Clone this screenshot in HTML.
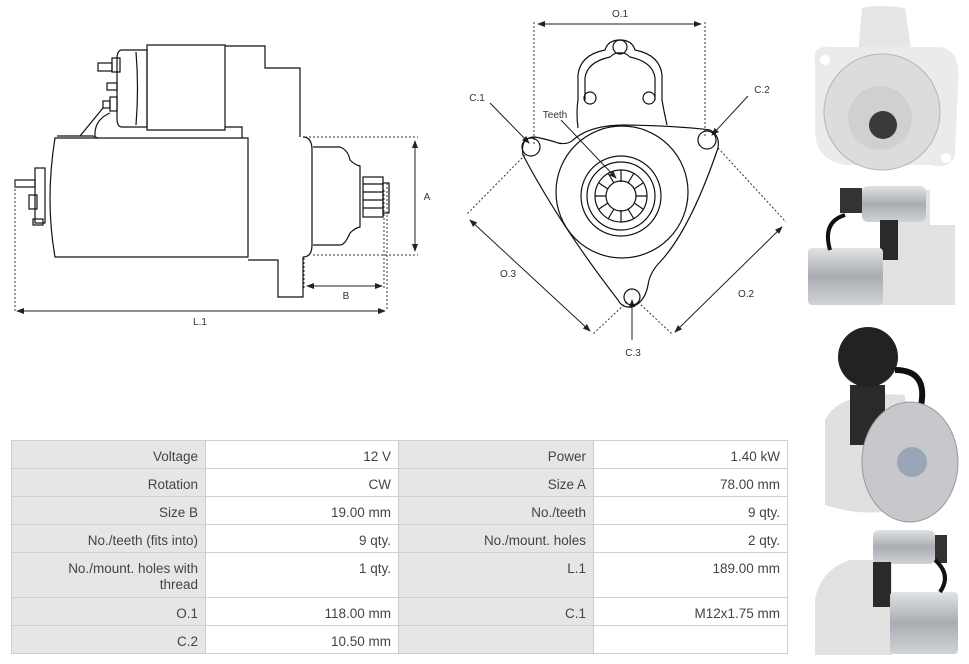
<!DOCTYPE html>
<html><head><meta charset="utf-8"><style>
html,body{margin:0;padding:0;background:#fff;width:969px;height:664px;overflow:hidden;font-family:"Liberation Sans",sans-serif}
svg{position:absolute;left:0;top:0}
.c{position:absolute;box-sizing:border-box;font-size:13.5px;color:#444;text-align:right;padding:8px 7px 0 0;line-height:16px;border:1px solid #cfcfcf}
.g{background:#e6e6e6}.w{background:#fff}
</style></head><body>
<svg width="969" height="664" viewBox="0 0 969 664">
<defs><marker id="a" markerWidth="8" markerHeight="8" refX="7" refY="4" orient="auto"><path d="M0,1 L8,4 L0,7z" fill="#222"/></marker>
<marker id="b" markerWidth="8" markerHeight="8" refX="1" refY="4" orient="auto"><path d="M8,1 L0,4 L8,7z" fill="#222"/></marker>
<linearGradient id="cyl" x1="0" y1="0" x2="0" y2="1"><stop offset="0" stop-color="#e0e2e4"/><stop offset=".5" stop-color="#a9adb2"/><stop offset="1" stop-color="#d0d3d6"/></linearGradient></defs>
<g fill="none" stroke="#111" stroke-width="1.2">
<path d="M147,45 H225 V130 H147 Z"/>
<path d="M122,50 H147 V127 H122 Q117,127 117,118 V59 Q117,50 122,50Z"/>
<path d="M136,52 Q139,88 136,125"/>
<rect x="112" y="58" width="8" height="14"/><rect x="98" y="63" width="14" height="8"/>
<rect x="107" y="83" width="10" height="7"/>
<rect x="110" y="97" width="7" height="14"/><rect x="103" y="101" width="7" height="7"/>
<path d="M225,46 H265 V68 H300 V137"/>
<path d="M225,127 H242 V138"/>
<path d="M55,138 H248 V257 H55 Q45,200 55,138Z"/>
<path d="M57,136 H93 L98,138"/><path d="M80,136 L103,108 M95,136 Q94,120 110,113"/>
<rect x="35" y="168" width="10" height="55"/><rect x="29" y="195" width="8" height="14"/>
<rect x="15" y="180" width="20" height="7"/><rect x="33" y="219" width="10" height="6"/>
<path d="M248,260 H278 V297 H303 V257"/>
<path d="M303,137 Q312,137 312,150 V245 Q312,257 303,257"/>
<path d="M313,147 H340 Q348,150 350,160 Q355,165 360,166 V227 Q355,228 350,233 Q345,245 340,245 H313"/>
<rect x="363" y="177" width="20" height="40"/><path d="M363,184 H383 M363,192 H383 M363,200 H383 M363,208 H383"/>
<rect x="383" y="183" width="6" height="30"/>
</g>
<g fill="none" stroke="#333" stroke-width="1" stroke-dasharray="2,2">
<path d="M305,137 H418 M313,255 H418 M15,181 V311 M387,183 V311 M384,190 V288 M304,258 V290"/>
<path d="M534,22 V145 M705,22 V138 M525,155 L466,215 M718,148 L786,222 M627,302 L593,334 M638,302 L672,334"/>
</g>
<g stroke="#222" stroke-width="1" fill="none">
<path d="M415,141 V251" marker-start="url(#b)" marker-end="url(#a)"/>
<path d="M307,286 H382" marker-start="url(#b)" marker-end="url(#a)"/>
<path d="M17,311 H385" marker-start="url(#b)" marker-end="url(#a)"/>
<path d="M538,24 H701" marker-start="url(#b)" marker-end="url(#a)"/>
<path d="M470,220 L590,331" marker-start="url(#b)" marker-end="url(#a)"/>
<path d="M782,227 L675,332" marker-start="url(#b)" marker-end="url(#a)"/>
<path d="M490,103 L529,143" marker-end="url(#a)"/>
<path d="M748,96 L712,135" marker-end="url(#a)"/>
<path d="M632,340 L632,300" marker-end="url(#a)"/>
<path d="M561,120 L616,178" marker-end="url(#a)"/>
</g>
<g fill="none" stroke="#111" stroke-width="1.2">
<path d="M578,128 Q576,112 578,100 V75 Q580,55 605,50 Q608,40 620,40 Q632,40 635,50 Q660,55 662,75 V100 Q664,112 667,125"/>
<path d="M585,100 V78 Q587,62 610,57 Q615,52 620,53 Q625,52 630,57 Q653,62 655,78 V100"/>
<circle cx="620" cy="47" r="7"/><circle cx="590" cy="98" r="6"/><circle cx="649" cy="98" r="6"/>
<path d="M573,140 Q590,125 625,125 Q680,126 710,130 Q720,135 718,148 Q690,230 660,262 Q650,272 648,285 Q645,302 632,307 Q622,308 618,300 Q560,225 523,155 Q520,137 535,137 Q550,140 558,143 Q568,145 573,140Z"/>
<circle cx="531" cy="147" r="9"/><circle cx="707" cy="140" r="9"/><circle cx="632" cy="297" r="8"/>
<circle cx="622" cy="192" r="66"/>
<circle cx="621" cy="196" r="40"/><circle cx="621" cy="196" r="34"/><circle cx="621" cy="196" r="26"/><circle cx="621" cy="196" r="15"/>
<path d="M621,170 V182 M634,173 L628,183 M643,183 L634,189 M647,196 H636 M643,209 L634,203 M634,219 L628,209 M621,222 V210 M608,219 L614,209 M599,209 L608,203 M595,196 H606 M599,183 L608,189 M608,173 L614,183"/>
</g>
<g font-size="10" fill="#333" text-anchor="middle">
<text x="427" y="200">A</text><text x="346" y="299">B</text><text x="200" y="325">L.1</text>
<text x="620" y="17">O.1</text><text x="477" y="101">C.1</text><text x="762" y="93">C.2</text>
<text x="633" y="356">C.3</text><text x="555" y="118">Teeth</text><text x="508" y="277">O.3</text><text x="746" y="297">O.2</text>
</g>
<!-- photo 1 -->
<path d="M862,8 Q880,4 905,8 L912,55 H858Z" fill="#e6e6e6"/>
<path d="M815,60 Q812,45 832,47 H940 Q962,50 958,85 L955,155 Q950,170 930,165 H845 Q815,160 815,130Z" fill="#ebebeb"/>
<circle cx="882" cy="112" r="58" fill="#dcdcdc" stroke="#b5b5b5"/>
<circle cx="880" cy="118" r="32" fill="#d0d0d0"/>
<circle cx="883" cy="125" r="14" fill="#3a3a3a"/>
<circle cx="825" cy="60" r="5" fill="#fff"/><circle cx="946" cy="158" r="5" fill="#fff"/>
<!-- photo 2 -->
<rect x="840" y="188" width="22" height="25" fill="#333"/>
<path d="M880,190 H930 V225 H955 V305 H880Z" fill="#e2e2e2"/>
<rect x="862" y="186" width="64" height="36" rx="6" fill="url(#cyl)"/>
<rect x="880" y="220" width="18" height="40" fill="#2a2a2a"/>
<rect x="808" y="248" width="75" height="57" rx="4" fill="url(#cyl)"/>
<path d="M845,215 Q822,222 830,250" stroke="#111" stroke-width="4" fill="none"/>
<!-- photo 3 -->
<path d="M825,420 Q840,390 905,395 L910,505 Q870,520 825,505Z" fill="#e0e0e0"/>
<rect x="850" y="385" width="35" height="60" fill="#2a2a2a"/>
<circle cx="868" cy="357" r="30" fill="#222"/>
<path d="M895,370 Q930,370 920,410" stroke="#111" stroke-width="6" fill="none"/>
<ellipse cx="910" cy="462" rx="48" ry="60" fill="#c6c8cc" stroke="#999"/>
<circle cx="912" cy="462" r="15" fill="#9aa6b8"/>
<!-- photo 4 -->
<path d="M850,560 H892 V655 H815 V600 Q820,570 850,560Z" fill="#e2e2e2"/>
<rect x="873" y="530" width="62" height="34" rx="6" fill="url(#cyl)"/>
<rect x="935" y="535" width="12" height="28" fill="#333"/>
<rect x="873" y="562" width="18" height="45" fill="#2a2a2a"/>
<rect x="890" y="592" width="68" height="62" rx="4" fill="url(#cyl)"/>
<path d="M935,560 Q952,575 940,592" stroke="#111" stroke-width="4" fill="none"/>
</svg>
<div class="c g" style="left:11px;top:440px;width:195px;height:29px">Voltage</div>
<div class="c w" style="left:205px;top:440px;width:194px;height:29px">12 V</div>
<div class="c g" style="left:398px;top:440px;width:196px;height:29px">Power</div>
<div class="c w" style="left:593px;top:440px;width:195px;height:29px">1.40 kW</div>
<div class="c g" style="left:11px;top:468px;width:195px;height:29px">Rotation</div>
<div class="c w" style="left:205px;top:468px;width:194px;height:29px">CW</div>
<div class="c g" style="left:398px;top:468px;width:196px;height:29px">Size A</div>
<div class="c w" style="left:593px;top:468px;width:195px;height:29px">78.00 mm</div>
<div class="c g" style="left:11px;top:496px;width:195px;height:29px">Size B</div>
<div class="c w" style="left:205px;top:496px;width:194px;height:29px">19.00 mm</div>
<div class="c g" style="left:398px;top:496px;width:196px;height:29px">No./teeth</div>
<div class="c w" style="left:593px;top:496px;width:195px;height:29px">9 qty.</div>
<div class="c g" style="left:11px;top:524px;width:195px;height:29px">No./teeth (fits into)</div>
<div class="c w" style="left:205px;top:524px;width:194px;height:29px">9 qty.</div>
<div class="c g" style="left:398px;top:524px;width:196px;height:29px">No./mount. holes</div>
<div class="c w" style="left:593px;top:524px;width:195px;height:29px">2 qty.</div>
<div class="c g" style="left:11px;top:552px;width:195px;height:46px">No./mount. holes with<br>thread</div>
<div class="c w" style="left:205px;top:552px;width:194px;height:46px">1 qty.</div>
<div class="c g" style="left:398px;top:552px;width:196px;height:46px">L.1</div>
<div class="c w" style="left:593px;top:552px;width:195px;height:46px">189.00 mm</div>
<div class="c g" style="left:11px;top:597px;width:195px;height:29px">O.1</div>
<div class="c w" style="left:205px;top:597px;width:194px;height:29px">118.00 mm</div>
<div class="c g" style="left:398px;top:597px;width:196px;height:29px">C.1</div>
<div class="c w" style="left:593px;top:597px;width:195px;height:29px">M12x1.75 mm</div>
<div class="c g" style="left:11px;top:625px;width:195px;height:29px">C.2</div>
<div class="c w" style="left:205px;top:625px;width:194px;height:29px">10.50 mm</div>
<div class="c g" style="left:398px;top:625px;width:196px;height:29px"></div>
<div class="c w" style="left:593px;top:625px;width:195px;height:29px"></div>
</body></html>
